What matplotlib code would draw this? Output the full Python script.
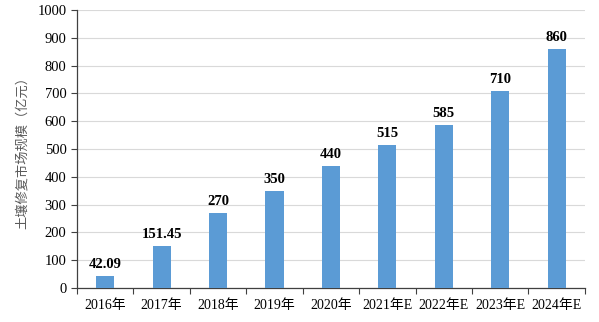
import matplotlib
matplotlib.use("Agg")
import matplotlib.pyplot as plt
import numpy as np

years = ["2016年", "2017年", "2018年", "2019年", "2020年",
         "2021年E", "2022年E", "2023年E", "2024年E"]
values = [42.09, 151.45, 270, 350, 440, 515, 585, 710, 860]
labels = ["42.09", "151.45", "270", "350", "440", "515", "585", "710", "860"]

plt.rcParams['font.family'] = ['Liberation Serif', 'Noto Sans CJK SC']

fig = plt.figure(figsize=(5.99, 3.22), dpi=100)
ax = fig.add_axes([0.1285, 0.1056, 0.848, 0.863])

x = np.arange(len(years))
ax.bar(x, values, width=0.32, color="#5b9bd5", zorder=3)
for xi, v, t in zip(x, values, labels):
    ax.text(xi, v + 18, t, ha="center", va="bottom", fontsize=10.5, fontweight="bold")

ax.set_xlim(-0.5, len(years) - 0.5)
ax.set_ylim(0, 1000)
ax.set_yticks(np.arange(0, 1001, 100))
ax.yaxis.grid(True, color="#d9d9d9", linewidth=0.8, zorder=0)
ax.set_xticks(x)
ax.set_xticklabels(years, fontsize=10)
ax.set_xticks(np.arange(-0.5, len(years), 1), minor=True)
ax.tick_params(axis="x", which="major", length=0, pad=8)
ax.tick_params(axis="x", which="minor", length=4, width=0.8, color="#404040")
ax.tick_params(axis="y", length=4, width=0.8, color="#404040", labelsize=10.5)

for s in ["top", "right"]:
    ax.spines[s].set_visible(False)
for s in ["left", "bottom"]:
    ax.spines[s].set_color("#404040")
    ax.spines[s].set_linewidth(0.9)

ax.set_ylabel("土壤修复市场规模（亿元）", fontsize=9.5, color="#595959", labelpad=6)

fig.savefig("out.png", dpi=100)
